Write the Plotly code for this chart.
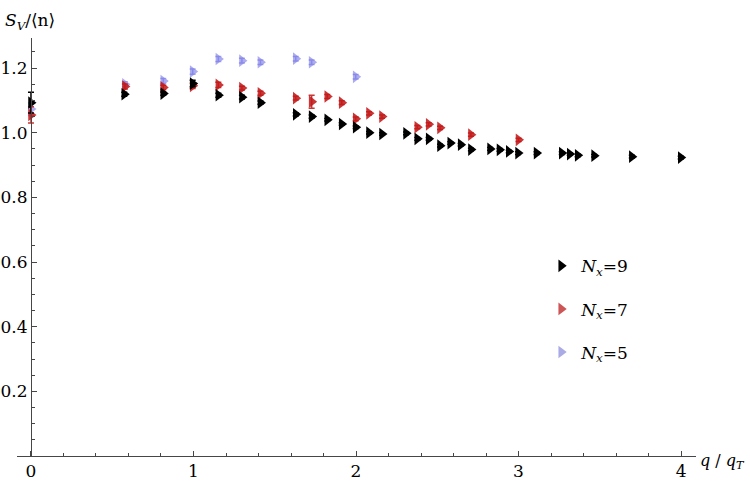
import plotly.graph_objects as go

# ---- data ----
q9 = [0.0, 0.574, 0.814, 0.995, 1.153, 1.298, 1.412, 1.629, 1.727, 1.823, 1.912, 1.998,
      2.080, 2.160, 2.308, 2.377, 2.447, 2.517, 2.580, 2.644, 2.707, 2.825, 2.883, 2.940,
      2.997, 3.111, 3.266, 3.315, 3.364, 3.465, 3.697, 3.998]
s9 = [1.093, 1.119, 1.121, 1.152, 1.116, 1.110, 1.093, 1.057, 1.050, 1.040, 1.027, 1.017,
      1.000, 0.996, 0.998, 0.981, 0.981, 0.960, 0.968, 0.963, 0.948, 0.950, 0.947, 0.942,
      0.937, 0.937, 0.937, 0.934, 0.930, 0.929, 0.926, 0.923]
e9 = [0.032, 0.006, 0.005, 0.010, 0.006, 0.006, 0.005, 0.005, 0.005, 0.004, 0.004, 0.004,
      0.004, 0.004, 0.004, 0.004, 0.004, 0.004, 0.004, 0.004, 0.004, 0.004, 0.004, 0.004,
      0.004, 0.004, 0.004, 0.004, 0.004, 0.004, 0.004, 0.004]

q7 = [0.0, 0.578, 0.814, 0.995, 1.153, 1.298, 1.412, 1.629, 1.727, 1.823, 1.912, 1.998,
      2.080, 2.160, 2.377, 2.447, 2.517, 2.707, 3.000]
s7 = [1.055, 1.143, 1.140, 1.145, 1.148, 1.138, 1.122, 1.107, 1.096, 1.112, 1.093, 1.043,
      1.060, 1.050, 1.017, 1.026, 1.015, 0.994, 0.978]
e7 = [0.025, 0.008, 0.007, 0.008, 0.008, 0.006, 0.006, 0.006, 0.020, 0.006, 0.006, 0.006,
      0.005, 0.005, 0.005, 0.005, 0.005, 0.005, 0.005]

q5 = [0.0, 0.578, 0.814, 0.995, 1.153, 1.298, 1.412, 1.629, 1.727, 1.998]
s5 = [1.073, 1.150, 1.160, 1.189, 1.228, 1.223, 1.218, 1.229, 1.218, 1.173]
e5 = [0.020, 0.008, 0.008, 0.008, 0.008, 0.007, 0.007, 0.007, 0.007, 0.007]

labels = ["<i>N</i><sub><i>x</i></sub>=9", "<i>N</i><sub><i>x</i></sub>=7",
          "<i>N</i><sub><i>x</i></sub>=5"]
ytick_vals = [0.2, 0.4, 0.6, 0.8, 1.0, 1.2]
ytick_text = ["0.2", "0.4", "0.6", "0.8", "1.0", "1.2"]
xtick_vals = [0, 1, 2, 3, 4]
xtick_text = ["0", "1", "2", "3", "4"]

FONT = "DejaVu Serif"
col9 = "rgb(0,0,0)"
col7 = "rgba(195,25,25,0.88)"
col5 = "rgba(115,115,230,0.6)"
leg_cols = ["rgb(0,0,0)", "rgb(205,85,85)", "rgb(170,170,228)"]

fig = go.Figure()
for q, s, e, c in [(q5, s5, e5, col5), (q7, s7, e7, col7), (q9, s9, e9, col9)]:
    fig.add_trace(go.Scatter(
        x=q, y=s, mode="markers", showlegend=False,
        marker=dict(symbol="triangle-right", size=11, color=c, line=dict(width=0)),
        error_y=dict(type="data", array=e, visible=True, color=c, thickness=1.5, width=3),
    ))

for i, (lab, c) in enumerate(zip(labels, leg_cols)):
    fig.add_trace(go.Scatter(
        x=[None], y=[None], mode="markers", name=lab, legendgroup=f"g{i}",
        marker=dict(symbol="triangle-right", size=11, color=c, line=dict(width=0)),
    ))

axcol = "rgb(70,70,70)"
fig.update_layout(
    width=750, height=492,
    margin=dict(l=17, r=54, t=38, b=36, pad=0),
    plot_bgcolor="white", paper_bgcolor="white",
    font=dict(family=FONT, size=17, color="black"),
    xaxis=dict(range=[-0.086, 4.092], showgrid=False, zeroline=False, automargin=False,
               showline=True, linecolor=axcol, linewidth=1,
               ticks="inside", ticklen=5, tickcolor=axcol,
               tickvals=xtick_vals, ticktext=xtick_text,
               minor=dict(ticks="inside", ticklen=3, dtick=0.2, tick0=0,
                          tickcolor=axcol, showgrid=False),
               tickfont=dict(family=FONT, size=17)),
    yaxis=dict(range=[0, 1.293], showgrid=False, zeroline=False, automargin=False,
               anchor="free", position=14 / 679,
               showline=True, linecolor=axcol, linewidth=1,
               ticks="inside", ticklen=5, tickcolor=axcol,
               tickvals=ytick_vals, ticktext=ytick_text,
               minor=dict(ticks="inside", ticklen=3, dtick=0.05, tick0=0,
                          tickcolor=axcol, showgrid=False),
               tickfont=dict(family=FONT, size=17)),
    legend=dict(x=0.772, xanchor="left", y=0.497, yanchor="top",
                font=dict(family=FONT, size=17), tracegroupgap=18,
                bgcolor="rgba(0,0,0,0)", traceorder="grouped"),
    annotations=[
        dict(text="<i>S</i><sub><i>V</i></sub>/⟨n⟩", xref="paper", yref="paper",
             x=-0.021, y=1.04, xanchor="left", yanchor="middle", showarrow=False,
             font=dict(family=FONT, size=17)),
        dict(text="<i>q</i> / <i>q</i><sub><i>T</i></sub>", xref="paper", yref="paper",
             x=1.003, y=-0.012, xanchor="left", yanchor="middle", showarrow=False,
             font=dict(family=FONT, size=16)),
    ],
)

fig.write_html("out.html")
